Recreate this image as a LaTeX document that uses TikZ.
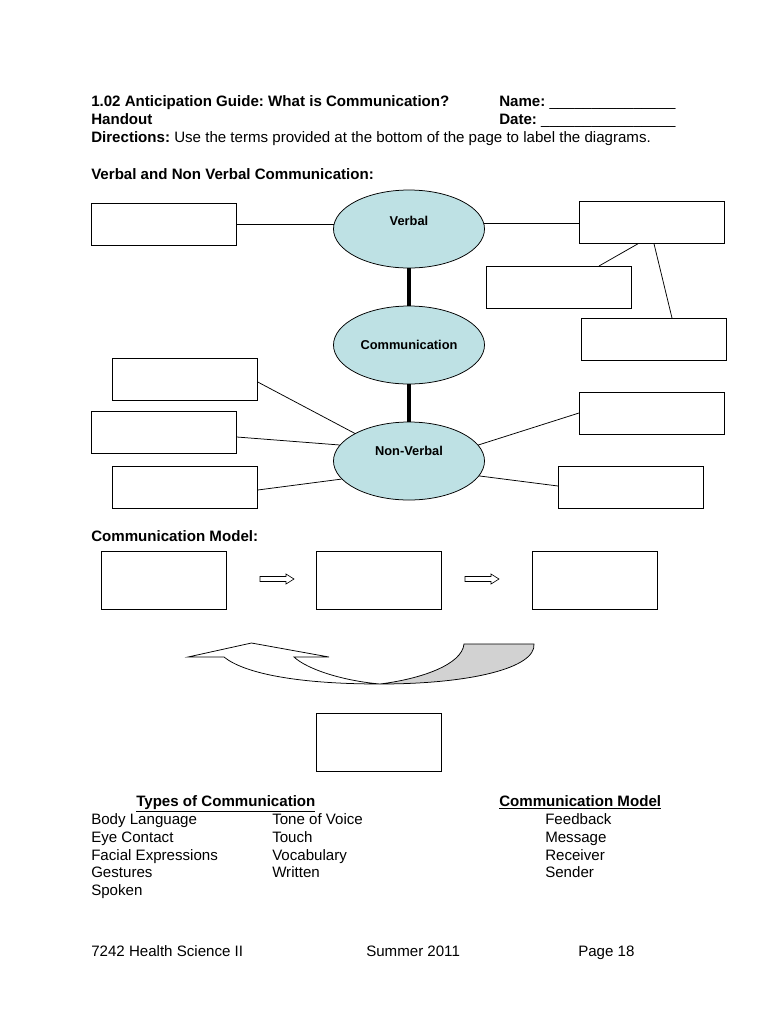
\documentclass[tikz,border=0pt]{standalone}
\usepackage{fontspec}
\setmainfont{Liberation Sans}
\usetikzlibrary{calc,shapes.geometric}
\frenchspacing
\def\pxu{0.795pt}
\definecolor{ellfill}{RGB}{190,225,228}
\definecolor{ribbon}{RGB}{210,210,210}
\tikzset{
  txt/.style={anchor=base west,inner sep=0pt,font=\fontsize{12pt}{14pt}\selectfont},
  btxt/.style={txt,font=\fontsize{12pt}{14pt}\selectfont\bfseries},
  blank/.style={draw=black,line width=0.6pt,fill=white,anchor=north west,inner sep=0pt,minimum width=145*\pxu,minimum height=42*\pxu},
  mbox/.style={blank,minimum width=125*\pxu,minimum height=58*\pxu},
  oval/.style={ellipse,draw=black,line width=0.6pt,fill=ellfill,inner sep=0.5pt,minimum width=151*\pxu,minimum height=78*\pxu,font=\fontsize{10.2pt}{12pt}\selectfont\bfseries,text height=7.5pt},
  thin/.style={line width=0.6pt},
  thick/.style={line width=2.4pt},
  blockarrow/.style={draw=black,line width=0.5pt,fill=white},
}
\begin{document}
\begin{tikzpicture}[x=0.795pt,y=-0.795pt]
\useasboundingbox[fill=white] (0,0) rectangle (770,1024);

% header
\node[btxt] (title) at (91,106.5) {1.02 Anticipation Guide: What is Communication?};
\node[btxt] (name) at (499,106.5) {Name: \mdseries\_\_\_\_\_\_\_\_\_\_\_\_\_\_\_};
\node[btxt] (handout) at (91,124.5) {Handout};
\node[btxt] (date) at (499,124.5) {Date: \mdseries\_\_\_\_\_\_\_\_\_\_\_\_\_\_\_\_};
\node[txt] (dir) at (91,142.5) {\textbf{Directions:} Use the terms provided at the bottom of the page to label the diagrams.};
\node[btxt] (sec1) at (91,179.5) {Verbal and Non Verbal Communication:};

% boxes of the first diagram
\node[blank] (tl) at (91,203) {};
\node[blank] (tr) at (579,201) {};
\node[blank] (mr) at (486,266) {};
\node[blank] (rr) at (581,318) {};
\node[blank] (L1) at (112,358) {};
\node[blank] (L2) at (91,411) {};
\node[blank] (L3) at (112,466) {};
\node[blank] (R1) at (579,392) {};
\node[blank] (R2) at (558,466) {};

% ellipses
\node[oval,text depth=12.3pt] (verbal) at (409,229) {Verbal};
\node[oval,text depth=0.3pt] (comm) at (409,345) {Communication};
\node[oval,text depth=15.5pt] (nv) at (409,461) {Non-Verbal};

% connectors
\draw[thin] (tl.east) -- (tl.east -| verbal.176);
\draw[thin] (verbal.4) -- (verbal.4 -| tr.west);
\draw[thin] ($(mr.north west)+(113,0)$) -- ($(tr.south west)+(59,0)$);
\draw[thin] ($(rr.north west)+(91,0)$) -- ($(tr.south west)+(75,0)$);
\draw[thin] ($(L1.north east)+(0,24)$) -- (nv.153);
\draw[thin] ($(L2.north east)+(0,26)$) -- (nv.167);
\draw[thin] ($(L3.north east)+(0,24)$) -- (nv.195);
\draw[thin] ($(R1.north west)+(0,21)$) -- (nv.13);
\draw[thin] ($(R2.north west)+(0,20)$) -- (nv.348);
\draw[thick] (verbal.south) -- (comm.north);
\draw[thick] (comm.south) -- (nv.north);

% communication model
\node[btxt] (sec2) at (91,541.5) {Communication Model:};
\node[mbox] (b1) at (101,551) {};
\node[mbox] (b2) at (316,551) {};
\node[mbox] (b3) at (532,551) {};
\node[mbox] (b4) at (316,713) {};

\draw[blockarrow] (260,576.5) -- (286,576.5) -- (286,574) -- (294,579) -- (286,584) -- (286,581.5) -- (260,581.5) -- cycle;
\draw[blockarrow] (465,576.5) -- (491,576.5) -- (491,574) -- (499,579) -- (491,584) -- (491,581.5) -- (465,581.5) -- cycle;

% curved feedback arrow
\draw[line width=0.6pt,fill=ribbon] (464,644) -- (534,644)
  .. controls (536,668) and (470,684) .. (380,684)
  .. controls (420,679) and (462,665) .. (464,644) -- cycle;
\draw[line width=0.6pt,fill=white] (188,657) -- (251.5,643) -- (329,657) -- (294,657)
  .. controls (308,670) and (345,681) .. (380,684)
  .. controls (300,684) and (245,674) .. (224,657) -- cycle;

% term lists
\node[btxt] (types) at (136,806.5) {\underline{Types of Communication}};
\node[btxt] (cmodel) at (499,806.5) {\underline{Communication Model}};
\node[txt] (t1) at (91,824.4) {Body Language};
\node[txt] (t2) at (91,842.2) {Eye Contact};
\node[txt] (t3) at (91,860) {Facial Expressions};
\node[txt] (t4) at (91,877.8) {Gestures};
\node[txt] (t5) at (91,895.6) {Spoken};
\node[txt] (t6) at (272,824.4) {Tone of Voice};
\node[txt] (t7) at (272,842.2) {Touch};
\node[txt] (t8) at (272,860) {Vocabulary};
\node[txt] (t9) at (272,877.8) {Written};
\node[txt] (m1) at (545,824.4) {Feedback};
\node[txt] (m2) at (545,842.2) {Message};
\node[txt] (m3) at (545,860) {Receiver};
\node[txt] (m4) at (545,877.8) {Sender};

% footer
\node[txt] (f1) at (91,956.5) {7242 Health Science II};
\node[txt] (f2) at (366,956.5) {Summer 2011};
\node[txt] (f3) at (578,956.5) {Page 18};
\end{tikzpicture}
\end{document}
